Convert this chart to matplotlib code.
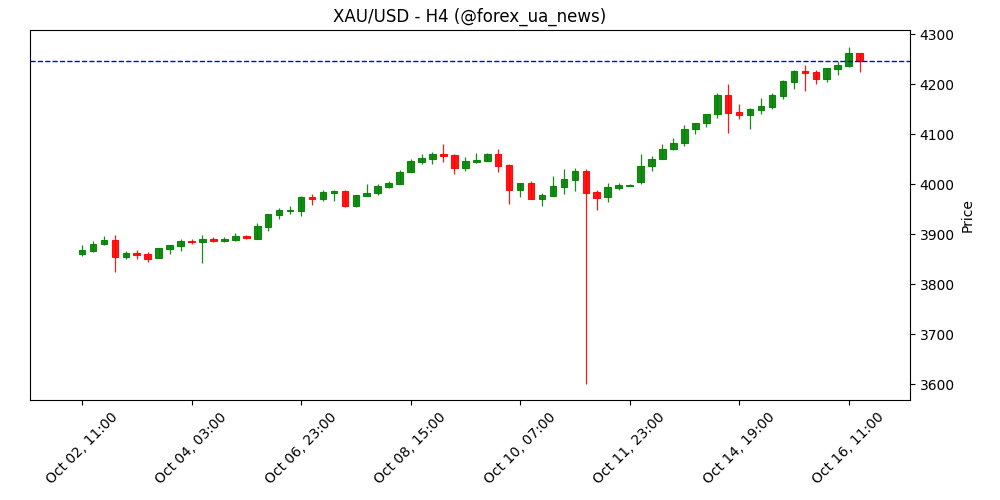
import matplotlib
matplotlib.use("Agg")
import matplotlib.pyplot as plt
import numpy as np

# H4 candles
opens = [3861, 3867, 3881, 3888, 3855, 3862, 3860, 3853, 3871, 3877,
         3887, 3885, 3891, 3887, 3889, 3896, 3891, 3915, 3939, 3946,
         3947, 3974, 3971, 3982, 3986, 3957, 3977, 3983, 3995, 4001,
         4025, 4045, 4051, 4060, 4058, 4033, 4044, 4047, 4060, 4038,
         3989, 4002, 3971, 3977, 3995, 4009, 4026, 3984, 3975, 3993,
         3997, 4005, 4037, 4051, 4071, 4083, 4111, 4123, 4141, 4179,
         4144, 4139, 4149, 4155, 4177, 4205, 4226, 4224, 4211, 4231,
         4237, 4262]
highs = [3879, 3886, 3897, 3899, 3867, 3868, 3865, 3872, 3879, 3891,
         3891, 3899, 3895, 3894, 3902, 3899, 3923, 3940, 3953, 3957,
         3976, 3980, 3989, 3989, 3988, 3978, 4000, 4000, 4006, 4029,
         4050, 4060, 4065, 4080, 4060, 4055, 4063, 4062, 4071, 4041,
         4002, 4007, 3983, 4016, 4030, 4033, 4031, 3988, 4002, 4003,
         4000, 4060, 4057, 4081, 4092, 4119, 4123, 4141, 4183, 4200,
         4161, 4153, 4173, 4183, 4208, 4228, 4239, 4229, 4232, 4247,
         4275, 4262]
lows = [3857, 3865, 3879, 3825, 3851, 3851, 3844, 3852, 3861, 3867,
        3880, 3843, 3884, 3885, 3887, 3890, 3891, 3907, 3931, 3941,
        3937, 3959, 3967, 3967, 3955, 3955, 3977, 3979, 3993, 4001,
        4025, 4041, 4041, 4045, 4021, 4027, 4043, 4047, 4025, 3961,
        3975, 3971, 3957, 3977, 3981, 3987, 3600, 3949, 3965, 3989,
        3996, 4001, 4027, 4051, 4068, 4077, 4101, 4115, 4133, 4103,
        4131, 4111, 4140, 4151, 4171, 4191, 4187, 4201, 4205, 4219,
        4235, 4225]
closes = [3868, 3881, 3888, 3855, 3862, 3858, 3851, 3872, 3878, 3887,
          3885, 3890, 3887, 3891, 3896, 3892, 3916, 3940, 3948, 3949,
          3974, 3970, 3984, 3986, 3957, 3978, 3983, 3996, 4002, 4025,
          4046, 4052, 4060, 4057, 4033, 4046, 4048, 4060, 4037, 3989,
          4002, 3971, 3978, 3996, 4010, 4026, 3983, 3973, 3994, 3999,
          3998, 4037, 4051, 4071, 4083, 4111, 4123, 4141, 4179, 4143,
          4139, 4150, 4156, 4178, 4206, 4226, 4223, 4211, 4232, 4238,
          4262, 4246]

tick_labels = ["Oct 02, 11:00", "Oct 04, 03:00", "Oct 06, 23:00", "Oct 08, 15:00",
               "Oct 10, 07:00", "Oct 11, 23:00", "Oct 14, 19:00", "Oct 16, 11:00"]
tick_step = 10

last_price = closes[-1]

o = np.array(opens)
h = np.array(highs)
l = np.array(lows)
c = np.array(closes)
x = np.arange(len(o))
up = c >= o
colors = np.where(up, "#008000", "#ff0000")

fig = plt.figure(figsize=(10, 5), dpi=100)
ax = fig.add_axes([0.03, 0.2, 0.88, 0.74])

# wicks
ax.vlines(x, l, h, colors=colors, linewidth=0.9, alpha=0.9)
# bodies
bottoms = np.minimum(o, c)
heights = np.maximum(np.abs(c - o), 0.8)
ax.bar(x, heights, bottom=bottoms, width=0.6, color=colors,
       edgecolor=colors, linewidth=0.8, alpha=0.9)

# last close
ax.axhline(last_price, color="blue", linestyle="--", linewidth=1)

ax.set_xlim(-4.75, 75.6)
ax.set_ylim(3568, 4308)
ax.set_xticks(np.arange(len(tick_labels)) * tick_step)
ax.set_xticklabels(tick_labels, rotation=45, ha="center")
ax.set_yticks(np.arange(3600, 4301, 100))
ax.yaxis.tick_right()
ax.yaxis.set_label_position("right")
ax.set_ylabel("Price")
ax.set_title("XAU/USD - H4 (@forex_ua_news)")

fig.savefig("out.png", dpi=100)
